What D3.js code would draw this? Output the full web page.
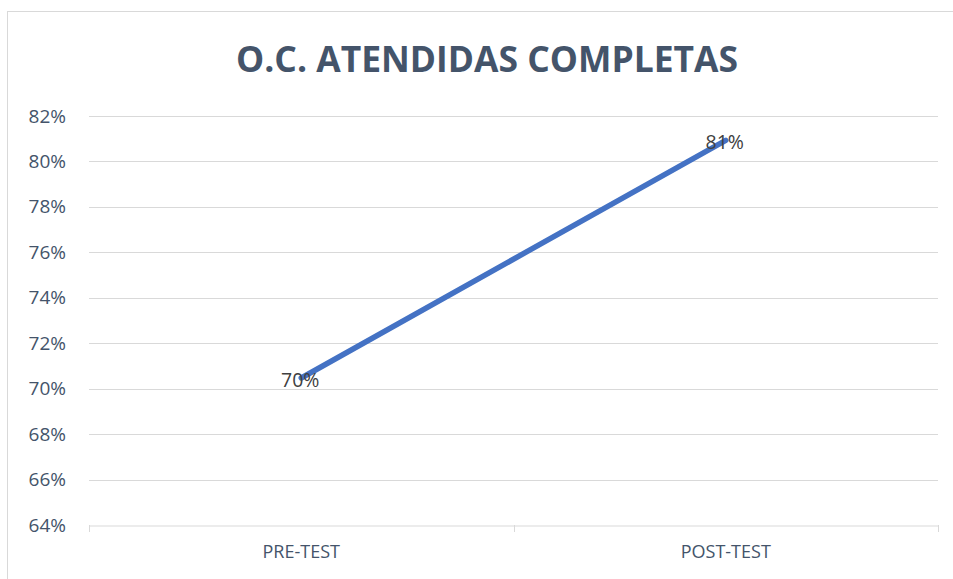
<!DOCTYPE html>
<html lang="en">
<head>
    <meta charset="UTF-8">
    <title>O.C. Atendidas Completas</title>
    <script src="https://d3js.org/d3.v7.min.js"></script>
    <style>
        body { margin: 0; background: #fff; }
        text { font-family: "Open Sans", sans-serif; }
    </style>
</head>
<body>
    <svg id="chart" width="953" height="579"></svg>
    <script>
        // data
        const categories = ["PRE-TEST", "POST-TEST"];
        const values = [0.7047, 0.8093];
        const valueLabels = ["70%", "81%"];
        const yTicks = [0.64, 0.66, 0.68, 0.70, 0.72, 0.74, 0.76, 0.78, 0.80, 0.82];

        const margin = { top: 116, right: 15, bottom: 54, left: 89 };
        const width = 953, height = 579;
        const svg = d3.select("#chart");
        const textColor = "#44546A";

        // chart frame
        svg.append("rect")
            .attr("x", 7.5).attr("y", 11.5)
            .attr("width", 960).attr("height", 600)
            .attr("fill", "#fff")
            .attr("stroke", "#d9d9d9");

        svg.append("text")
            .attr("x", 487).attr("y", 72)
            .attr("text-anchor", "middle")
            .attr("font-size", 35)
            .attr("font-weight", "bold")
            .attr("fill", textColor)
            .attr("textLength", 502)
            .attr("lengthAdjust", "spacingAndGlyphs")
            .text("O.C. ATENDIDAS COMPLETAS");

        const x = d3.scaleBand()
            .domain(categories)
            .range([margin.left, width - margin.right]);

        const y = d3.scaleLinear()
            .domain([0.64, 0.82])
            .range([height - margin.bottom, margin.top]);

        // gridlines
        svg.append("g")
            .selectAll("line")
            .data(yTicks.slice(1))
            .enter().append("line")
            .attr("x1", margin.left).attr("x2", width - margin.right)
            .attr("y1", d => Math.round(y(d)) + 0.5)
            .attr("y2", d => Math.round(y(d)) + 0.5)
            .attr("stroke", "#d9d9d9");

        // y axis labels
        const yAxis = svg.append("g")
            .attr("transform", `translate(${margin.left},0)`)
            .call(d3.axisLeft(y).tickValues(yTicks).tickFormat(d3.format(".0%")).tickSize(0).tickPadding(23));
        yAxis.select(".domain").remove();
        yAxis.selectAll("text")
            .attr("font-size", 19)
            .attr("fill", textColor)
            .style("font-family", "Open Sans, sans-serif");

        // x axis
        const xAxis = svg.append("g")
            .attr("transform", `translate(0,${Math.round(y(0.64)) + 0.5})`)
            .call(d3.axisBottom(x).tickSize(0).tickPadding(20));
        xAxis.select(".domain").attr("stroke", "#d9d9d9");
        xAxis.selectAll("text")
            .attr("font-size", 18)
            .attr("fill", textColor)
            .style("font-family", "Open Sans, sans-serif");

        // category separators
        const edges = [margin.left, margin.left + x.bandwidth(), width - margin.right];
        svg.append("g")
            .selectAll("line")
            .data(edges)
            .enter().append("line")
            .attr("x1", d => Math.round(d) + 0.5).attr("x2", d => Math.round(d) + 0.5)
            .attr("y1", y(0.64)).attr("y2", y(0.64) + 7)
            .attr("stroke", "#d9d9d9");

        // line
        const line = d3.line()
            .x((d, i) => x(categories[i]) + x.bandwidth() / 2)
            .y(d => y(d));

        svg.append("path")
            .datum(values)
            .attr("d", line)
            .attr("fill", "none")
            .attr("stroke", "#4472C4")
            .attr("stroke-width", 5.5)
            .attr("stroke-linecap", "round");

        // data labels
        svg.append("g")
            .selectAll("text")
            .data(values)
            .enter().append("text")
            .attr("x", (d, i) => x(categories[i]) + x.bandwidth() / 2 - 1)
            .attr("y", d => y(d) + 9)
            .attr("text-anchor", "middle")
            .attr("font-size", 19.5)
            .attr("fill", "#404040")
            .text((d, i) => valueLabels[i]);
    </script>
</body>
</html>
